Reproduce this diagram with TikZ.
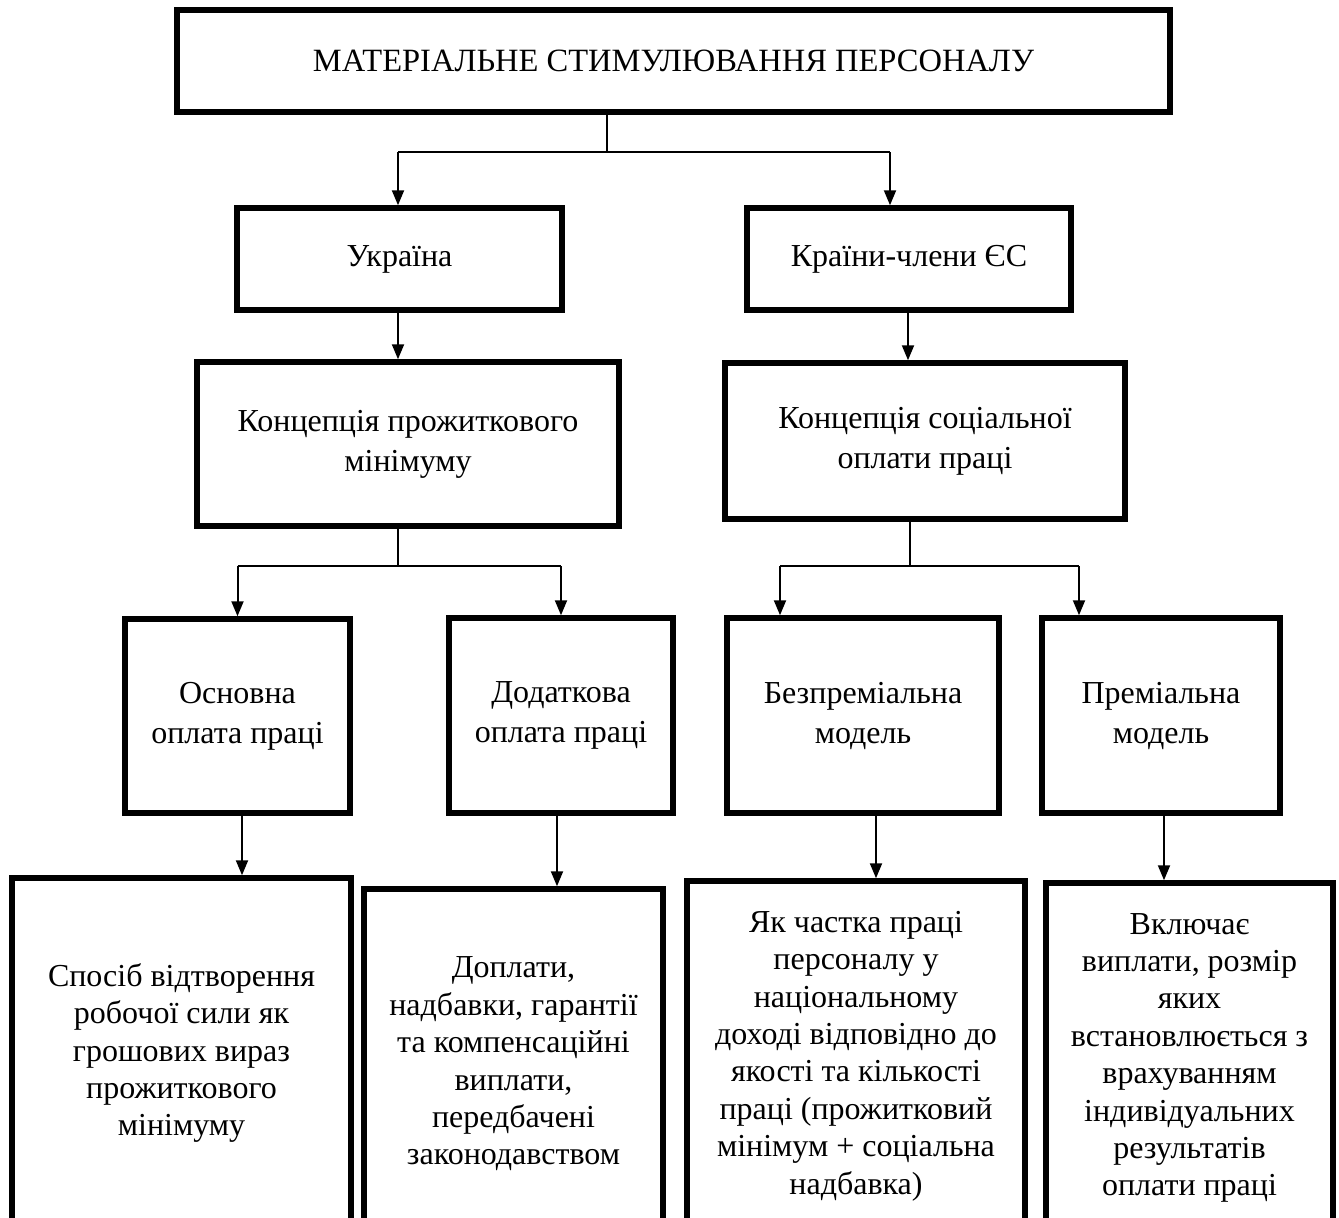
\documentclass[tikz,border=0pt]{standalone}
\usepackage{fontspec}
\setmainfont{Liberation Serif}
\usetikzlibrary{arrows.meta}
\begin{document}
\begin{tikzpicture}[x=1pt,y=-1pt,
  box/.style={draw=black, line width=5.5pt, align=center, inner sep=0pt,
    font=\fontsize{32}{40}\selectfont},
  lowbox/.style={box, minimum height=350pt, font=\fontsize{32}{37.4}\selectfont},
  conn/.style={draw=black, line width=2pt},
  thinconn/.style={draw=black, line width=1.4pt},
  arr/.style={conn, -{Triangle[width=12pt,length=15pt]}}
]
\useasboundingbox (0,0) rectangle (1339,1218);
\clip (0,0) rectangle (1339,1218);

% level 0
\node[box, minimum width=993pt, minimum height=102pt, font=\fontsize{32.5}{40}\selectfont] (title) at (673.5,61) {МАТЕРІАЛЬНЕ СТИМУЛЮВАННЯ ПЕРСОНАЛУ};

% level 1
\node[box, minimum width=325pt, minimum height=102pt] (ua) at (399.5,259) {Україна};
\node[box, minimum width=324pt, minimum height=102pt] (eu) at (909,259) {Країни-члени ЄС};

% level 2
\node[box, minimum width=422pt, minimum height=164pt] (kp) at (408,444) {Концепція прожиткового\\мінімуму};
\node[box, minimum width=400pt, minimum height=156pt] (ks) at (925,441) {Концепція соціальної\\оплати праці};

% level 3
\node[box, minimum width=225pt, minimum height=194pt] (osn) at (237.5,716) {Основна\\оплата праці};
\node[box, minimum width=224pt, minimum height=195pt] (dod) at (561,715.5) {Додаткова\\оплата праці};
\node[box, minimum width=272pt, minimum height=195pt] (bez) at (863,715.5) {Безпреміальна\\модель};
\node[box, minimum width=238pt, minimum height=195pt] (prem) at (1161,715.5) {Преміальна\\модель};

% level 4
\node[lowbox, minimum width=339pt] (b1) at (181.5,1053) {Спосіб відтворення\\робочої сили як\\грошових вираз\\прожиткового\\мінімуму};
\node[lowbox, minimum width=299pt] (b2) at (513.5,1064) {Доплати,\\надбавки, гарантії\\та компенсаційні\\виплати,\\передбачені\\законодавством};
\node[lowbox, minimum width=338pt] (b3) at (856,1056) {Як частка праці\\персоналу у\\національному\\доході відповідно до\\якості та кількості\\праці (прожитковий\\мінімум + соціальна\\надбавка)};
\node[lowbox, minimum width=287pt] (b4) at (1189.5,1058) {Включає\\виплати, розмір\\яких\\встановлюється з\\врахуванням\\індивідуальних\\результатів\\оплати праці};

% junctions
\coordinate (j0) at (607,152);
\coordinate (j0l) at (398,152);
\coordinate (j0r) at (890,152);
\coordinate (j1) at (398,566);
\coordinate (j2) at (910,566);
\coordinate (j2l) at (780,566);
\coordinate (j2r) at (1079,566);

% connectors level 0 -> 1
\path[thinconn] (title.south -| j0) -- (j0);
\path[conn] (j0l) -- (j0r);
\path[arr] (j0l) -- (j0l |- ua.north);
\path[arr] (j0r) -- (j0r |- eu.north);

% level 1 -> 2
\path[arr] (ua.south -| j0l) -- (j0l |- kp.north);
\coordinate (e1) at (908,0);
\path[arr] (eu.south -| e1) -- (e1 |- ks.north);

% level 2 -> 3
\path[thinconn] (kp.south -| j1) -- (j1);
\path[conn] (j1 -| osn.north) -- (j1 -| dod.north);
\path[arr] (j1 -| osn.north) -- (osn.north);
\path[arr] (j1 -| dod.north) -- (dod.north);
\path[thinconn] (ks.south -| j2) -- (j2);
\path[conn] (j2l) -- (j2r);
\path[arr] (j2l) -- (j2l |- bez.north);
\path[arr] (j2r) -- (j2r |- prem.north);

% level 3 -> 4
\coordinate (x1) at (242,0);
\coordinate (x2) at (557,0);
\coordinate (x3) at (876,0);
\coordinate (x4) at (1164,0);
\path[arr] (osn.south -| x1) -- (x1 |- b1.north);
\path[arr] (dod.south -| x2) -- (x2 |- b2.north);
\path[arr] (bez.south -| x3) -- (x3 |- b3.north);
\path[arr] (prem.south -| x4) -- (x4 |- b4.north);
\end{tikzpicture}
\end{document}
